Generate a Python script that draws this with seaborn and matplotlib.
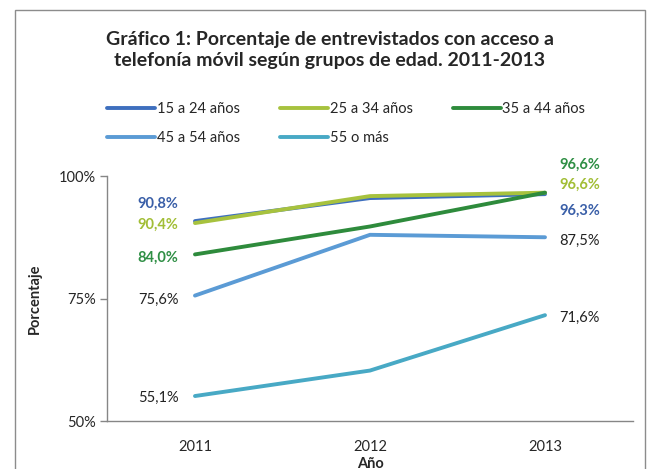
import matplotlib.pyplot as plt
import matplotlib.patches as mpatches
import numpy as np
import pandas as pd
import seaborn as sns

years = ["2011", "2012", "2013"]
groups = ["15 a 24 años", "25 a 34 años", "35 a 44 años", "45 a 54 años", "55 o más"]
v_15_24 = [90.8, 95.5, 96.3]
v_25_34 = [90.4, 95.9, 96.6]
v_35_44 = [84.0, 89.7, 96.6]
v_45_54 = [75.6, 88.0, 87.5]
v_55 = [55.1, 60.3, 71.6]
yticks = [50, 75, 100]

colors = ["#3E6FBE", "#A7C23E", "#2E8B3C", "#5B9BD5", "#48A9C5"]
label_colors = ["#3A5FA8", "#A2BE36", "#2F8F45", "#222222", "#222222"]
label_bold = [True, True, True, False, False]
# vertical offsets (pixels) of the value labels at first / last year
off_first = [17, -2, -3, -4, -2]
off_last = [-15, 10, 30, -2, -1]

values = [v_15_24, v_25_34, v_35_44, v_45_54, v_55]
df = pd.DataFrame(
    [(g, i, v) for g, vals in zip(groups, values) for i, v in enumerate(vals)],
    columns=["grupo", "anio", "valor"],
)

sns.set_style("white")
plt.rcParams["font.family"] = ["Lato", "DejaVu Sans"]

fig = plt.figure(figsize=(6.49, 4.69), dpi=100)
ax = fig.add_axes([0.1656, 0.1023, 0.809, 0.5224])

sns.lineplot(
    data=df, x="anio", y="valor", hue="grupo", hue_order=groups,
    palette=dict(zip(groups, colors)), linewidth=2.8, ax=ax, legend=False,
)

ax.set_xlim(-0.5, 2.5)
ax.set_ylim(50, 100)
ax.set_yticks(yticks)
ax.set_yticklabels([f"{t}%" for t in yticks])
ax.set_xticks(range(len(years)))
ax.set_xticklabels(years)
ax.set_xticks(np.arange(-0.5, 3, 1), minor=True)
ax.tick_params(axis="x", which="major", length=0, pad=14, labelsize=10.5)
ax.tick_params(axis="x", which="minor", length=5, color="#868686", width=1)
ax.tick_params(axis="y", length=5, color="#868686", width=1, labelsize=10.5, left=True)
for s in ["top", "right"]:
    ax.spines[s].set_visible(False)
for s in ["left", "bottom"]:
    ax.spines[s].set_color("#868686")
    ax.spines[s].set_linewidth(1)

ax.set_xlabel("Año", fontsize=10.5, fontweight="bold")
ax.xaxis.set_label_coords(0.5, -0.145)
ax.set_ylabel("Porcentaje", fontsize=10.5, fontweight="bold")
ax.yaxis.set_label_coords(-0.125, 0.5)

for i, vals in enumerate(values):
    w = "bold" if label_bold[i] else "normal"
    ax.annotate(f"{vals[0]:.1f}%".replace(".", ","), (0, vals[0]),
                xytext=(-12, off_first[i] * 0.72), textcoords="offset points",
                ha="right", va="center", fontsize=10.5, color=label_colors[i], fontweight=w)
    ax.annotate(f"{vals[-1]:.1f}%".replace(".", ","), (2, vals[-1]),
                xytext=(10, off_last[i] * 0.72 - 1.5), textcoords="offset points",
                ha="left", va="center", fontsize=10.5, color=label_colors[i], fontweight=w,
                annotation_clip=False)

fig.text(0.508, 0.893, "Gráfico 1: Porcentaje de entrevistados con acceso a\n"
         "telefonía móvil según grupos de edad. 2011-2013",
         ha="center", va="center", fontsize=14, fontweight="bold", linespacing=1.3)

handles = [plt.Line2D([], [], color=c, lw=2.8) for c in colors]
order = [0, 3, 1, 4, 2]
fig.legend([handles[k] for k in order], [groups[k] for k in order],
           ncol=3, loc="upper left", bbox_to_anchor=(0.145, 0.81), frameon=False,
           fontsize=10.5, handlelength=3.3, handletextpad=0.1, columnspacing=2.75,
           labelspacing=1.0)

fig.patches.append(mpatches.Rectangle((15 / 649, -0.1), 630 / 649, 1 - 10 / 469 + 0.1,
                                      transform=fig.transFigure, fill=False,
                                      edgecolor="#8C8C8C", linewidth=1))

fig.savefig("out.png", dpi=100)
